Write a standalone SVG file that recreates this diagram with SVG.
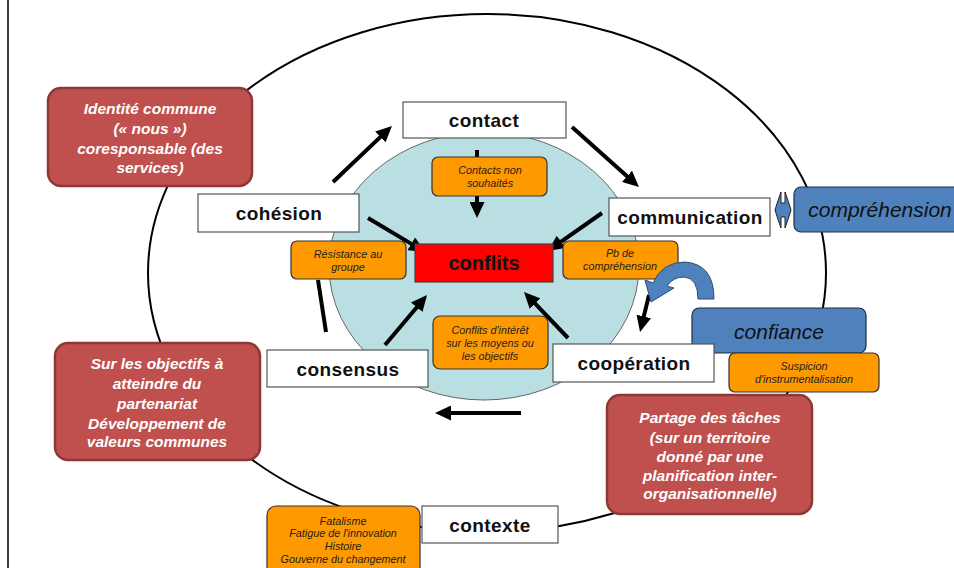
<svg xmlns="http://www.w3.org/2000/svg" width="954" height="568" viewBox="0 0 954 568">
<defs>
<marker id="ah" markerUnits="userSpaceOnUse" markerWidth="16" markerHeight="15" refX="6" refY="7.5" orient="auto">
<path d="M0,0 L16,7.5 L0,15 z" fill="#000"/>
</marker>
<style>
.wb{fill:#fff;stroke:#555;stroke-width:1.2}
.wt{font-family:"Liberation Sans",Arial,sans-serif;font-weight:bold;font-size:19px;fill:#111;text-anchor:middle;letter-spacing:0.4px}
.ob{fill:#ff9900;stroke:#333;stroke-width:1.2}
.ot{font-family:"Liberation Sans",Arial,sans-serif;font-style:italic;font-size:10.8px;fill:#222;text-anchor:middle}
.rb{fill:#c0504d;stroke:#8c3836;stroke-width:2.5}
.rt{font-family:"Liberation Sans",Arial,sans-serif;font-style:italic;font-weight:bold;font-size:15.5px;fill:#fff;text-anchor:middle}
.bb{fill:#4f81bd;stroke:#1e2f45;stroke-width:1.2}
.bt{font-family:"Liberation Sans",Arial,sans-serif;font-style:italic;font-size:21px;fill:#111;text-anchor:middle}
.ar{stroke:#000;stroke-width:4;fill:none;marker-end:url(#ah)}
.ln{stroke:#000;stroke-width:4;fill:none}
</style>
</defs>
<rect width="954" height="568" fill="#fff"/>
<line x1="8" y1="0" x2="8" y2="568" stroke="#000" stroke-width="1.5"/>
<g id="outer">
<ellipse cx="487" cy="273" rx="339" ry="259" fill="none" stroke="#000" stroke-width="2"/>
</g>
<g id="inner">
<ellipse cx="484" cy="266" rx="155" ry="134" fill="#b9dfe3" stroke="#666" stroke-width="1"/>
</g>
<g id="connectors">
<line class="ar" x1="333" y1="182" x2="384.7" y2="132.9"/>
<line class="ar" x1="572" y1="127" x2="631.5" y2="180.3"/>
<line class="ln" x1="477" y1="150" x2="477" y2="158"/>
<line class="ar" x1="477" y1="196" x2="477" y2="208"/>
<line class="ar" x1="602" y1="213" x2="556.2" y2="245.2"/>
<line class="ar" x1="368" y1="218" x2="416.4" y2="246.9"/>
<line class="ar" x1="385" y1="345" x2="420.6" y2="302.7"/>
<line class="ar" x1="568" y1="338" x2="530.9" y2="299.2"/>
<line class="ar" x1="649" y1="295" x2="642.4" y2="322.3"/>
<line class="ar" x1="521" y1="413" x2="445" y2="413"/>
<line class="ln" x1="318" y1="280" x2="326" y2="332"/>
</g>
<g id="contact"><rect class="wb" x="403" y="102" width="163" height="36"/><text class="wt" x="484" y="127">contact</text></g>
<g id="contacts-non"><rect class="ob" x="432" y="157" width="115" height="39" rx="6"/><text class="ot" x="490" y="174">Contacts non</text><text class="ot" x="490" y="187">souhaités</text></g>
<g id="communication"><rect class="wb" x="609" y="198" width="161" height="38"/><text class="wt" x="690" y="224">communication</text></g>
<g id="double-arrow"><path d="M775,210 Q778,200 781,192 L781,203 L785,203 L785,192 Q788,200 791,210 Q788,220 785,228 L785,217 L781,217 L781,228 Q778,220 775,210 Z" fill="#4f81bd" stroke="#222" stroke-width="1"/></g>
<g id="comprehension"><rect class="bb" x="794" y="187" width="175" height="45" rx="7"/><text class="bt" x="880" y="217">compréhension</text></g>
<g id="cohesion"><rect class="wb" x="198" y="194" width="161" height="38"/><text class="wt" x="279" y="220">cohésion</text></g>
<g id="resistance"><rect class="ob" x="291" y="241" width="115" height="38" rx="6"/><text class="ot" x="348" y="258">Résistance au</text><text class="ot" x="348" y="271">groupe</text></g>
<g id="conflits"><rect x="415" y="244" width="138" height="38" fill="#ff0000" stroke="#444" stroke-width="1.2"/><text class="wt" x="484" y="270" style="font-size:20px;letter-spacing:0">conflits</text></g>
<g id="pb"><rect class="ob" x="563" y="241" width="115" height="38" rx="6"/><text class="ot" x="620" y="257">Pb de</text><text class="ot" x="620" y="270">compréhension</text></g>
<g id="blue-arrow"><path d="M714,299 Q714,264 685,262 Q662,262 653,283 L645,280 L651,302 L674,288 L667,286 Q673,277 684,277 Q698,278 698,299 Z" fill="#4f81bd" stroke="#2c4d75" stroke-width="1"/></g>
<g id="confiance"><rect class="bb" x="692" y="308" width="174" height="45" rx="7"/><text class="bt" x="779" y="339">confiance</text></g>
<g id="suspicion"><rect class="ob" x="729" y="353" width="150" height="39" rx="6"/><text class="ot" x="804" y="370">Suspicion</text><text class="ot" x="804" y="383">d'instrumentalisation</text></g>
<g id="cooperation"><rect class="wb" x="553" y="344" width="161" height="38"/><text class="wt" x="634" y="370">coopération</text></g>
<g id="consensus"><rect class="wb" x="267" y="350" width="161" height="37"/><text class="wt" x="348" y="376">consensus</text></g>
<g id="conflits-interet"><rect class="ob" x="433" y="316" width="115" height="53" rx="7"/><text class="ot" x="490" y="334">Conflits d'intérêt</text><text class="ot" x="490" y="347">sur les moyens ou</text><text class="ot" x="490" y="360">les objectifs</text></g>
<g id="identite"><rect class="rb" x="48" y="88" width="204" height="98" rx="13"/><text class="rt" x="150" y="114">Identité commune</text><text class="rt" x="150" y="134">(« nous »)</text><text class="rt" x="150" y="154">coresponsable (des</text><text class="rt" x="150" y="173">services)</text></g>
<g id="objectifs"><rect class="rb" x="55" y="343" width="205" height="117" rx="13"/><text class="rt" x="157" y="369">Sur les objectifs à</text><text class="rt" x="157" y="389">atteindre du</text><text class="rt" x="157" y="409">partenariat</text><text class="rt" x="157" y="429">Développement de</text><text class="rt" x="157" y="447">valeurs communes</text></g>
<g id="partage"><rect class="rb" x="607" y="395" width="205" height="119" rx="13"/><text class="rt" x="710" y="423">Partage des tâches</text><text class="rt" x="710" y="443">(sur un territoire</text><text class="rt" x="710" y="462">donné par une</text><text class="rt" x="710" y="481">planification inter-</text><text class="rt" x="710" y="499">organisationnelle)</text></g>
<g id="fatalisme"><rect class="ob" x="267" y="506" width="153" height="70" rx="9"/><text class="ot" x="343" y="525">Fatalisme</text><text class="ot" x="343" y="537">Fatigue de l'innovation</text><text class="ot" x="343" y="550">Histoire</text><text class="ot" x="343" y="563">Gouverne du changement</text></g>
<g id="contexte"><rect class="wb" x="422" y="506" width="136" height="37"/><text class="wt" x="490" y="532">contexte</text></g>
</svg>
